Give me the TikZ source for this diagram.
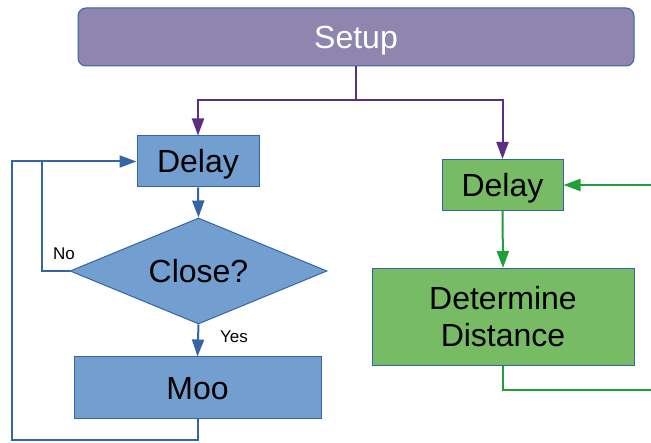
\documentclass[tikz,border=0pt]{standalone}
\usepackage{fontspec}
\setmainfont{Liberation Sans}
\usetikzlibrary{arrows.meta,shapes.geometric}
\definecolor{setupfill}{HTML}{8E86AE}
\definecolor{blufill}{HTML}{729FCF}
\definecolor{bluline}{HTML}{3465A4}
\definecolor{grnfill}{HTML}{77BC65}
\definecolor{grnline}{HTML}{1FA03A}
\definecolor{purline}{HTML}{5C2D80}

\begin{document}
\begin{tikzpicture}[x=1pt, y=-1pt, font=\fontsize{32}{37}\selectfont,
  blk/.style={draw=bluline, line width=1pt, align=center, inner sep=0pt},
  oneline/.style={text height=23pt, text depth=0pt},
  flow/.style={line width=2pt, -{Triangle[length=17pt,width=12pt]}},
  small/.style={font=\fontsize{17}{20}\selectfont}]
  \useasboundingbox (0,0) rectangle (651,443);

  \node[blk, oneline, fill=setupfill, text=white, rounded corners=8pt, minimum width=556pt, minimum height=58pt] (setup) at (356,37) {Setup};

  % left branch
  \node[blk, oneline, fill=blufill, minimum width=122pt, minimum height=51pt] (dl) at (198,161.5) {Delay};
  \node[blk, oneline, fill=blufill, diamond, aspect=2.5, minimum width=257pt, minimum height=106pt] (cl) at (198.5,271) {Close?};
  \node[blk, oneline, fill=blufill, minimum width=247pt, minimum height=62pt] (moo) at (197.5,388) {Moo};
  \node[small] (no) at (64,254) {No};
  \node[small] (yes) at (234,337) {Yes};
  \coordinate (nj) at (42,161.5);
  \coordinate (lp) at (12,440);

  % right branch
  \node[blk, oneline, fill=grnfill, minimum width=121pt, minimum height=51pt] (gd) at (502.5,185) {Delay};
  \node[blk, fill=grnfill, minimum width=262pt, minimum height=97pt] (dd) at (503,317) {Determine\\Distance};
  \coordinate (gin) at (651,185);
  \coordinate (gout) at (651,390);

  \draw[flow, purline] (setup.south) -- ++(0,34) -| (dl.north);
  \draw[flow, purline] (setup.south) -- ++(0,34) -| (gd.north);

  \draw[flow, bluline] (dl.south) -- (cl.north);
  \draw[flow, bluline] (cl.south) -- (moo.north);
  \draw[line width=2pt, bluline] (cl.west) -| (nj);
  \draw[flow, bluline] (moo.south) |- (lp) |- (dl.west);

  \draw[flow, grnline] (gin) -- (gd.east);
  \draw[flow, grnline] (gd.south) -- (dd.north);
  \draw[line width=2pt, grnline] (dd.south) |- (gout);
\end{tikzpicture}
\end{document}
